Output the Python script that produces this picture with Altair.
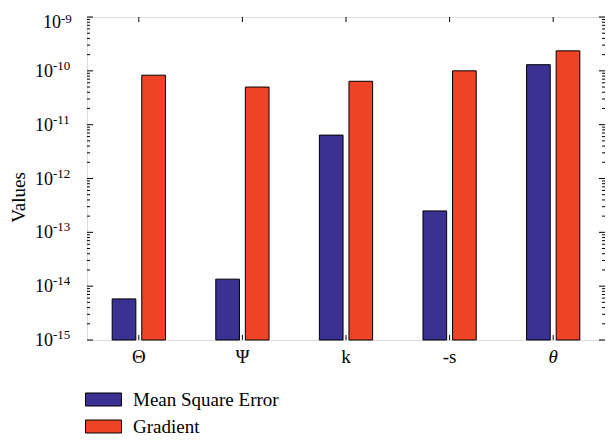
import altair as alt
import pandas as pd

categories = ["Θ", "Ψ", "k", "-s", "θ"]
series_names = ["Mean Square Error", "Gradient"]
mse_values = [5.8e-15, 1.35e-14, 6.4e-12, 2.5e-13, 1.3e-10]
grad_values = [8.3e-11, 5.0e-11, 6.4e-11, 1.0e-10, 2.35e-10]
colors = ["#3B3192", "#EF4328"]
tick_base = "10"
tick_exponents = ["-15", "-14", "-13", "-12", "-11", "-10", "-9"]
decades = [1e-15, 1e-14, 1e-13, 1e-12, 1e-11, 1e-10, 1e-9]
minor_mult = [2, 3, 4, 5, 6, 7, 8, 9]

W, H = 518, 323
FONT = "Liberation Serif"

rows = []
for c, m, g in zip(categories, mse_values, grad_values):
    rows.append({"cat": c, "series": series_names[0], "value": m})
    rows.append({"cat": c, "series": series_names[1], "value": g})
df = pd.DataFrame(rows)

major = pd.DataFrame({"value": decades, "exp": tick_exponents, "base": [tick_base] * len(decades)})
minor = pd.DataFrame({"value": [d * k for d in decades[:-1] for k in minor_mult]})
cats = pd.DataFrame({"cat": categories})

yscale = alt.Scale(type="log", domain=[1e-15, 1e-9])
xscale = alt.Scale(domain=categories, paddingInner=0.486, paddingOuter=0.243)

yaxis = alt.Axis(title="Values", values=decades, labels=False,
                 tickSize=0, domain=False, grid=False,
                 titleFont=FONT, titleFontSize=19, titleX=-69, titleY=180,
                 titleBaseline="middle",
                 titleFontWeight="normal", titleColor="black")
xaxis = alt.Axis(title=None, labelAngle=0, tickSize=0, domain=False,
                 labelFont=FONT, labelFontSize=19, labelColor="black",
                 labelPadding=7,
                 labelFontStyle={"condition": {"test": "datum.label == 'θ'", "value": "italic"}, "value": "normal"})

bars = alt.Chart(df).mark_bar(stroke="black", strokeWidth=1).encode(
    x=alt.X("cat:N", scale=xscale, sort=categories, axis=xaxis),
    xOffset=alt.XOffset("series:N", sort=series_names,
                        scale=alt.Scale(domain=series_names, paddingInner=0.2, paddingOuter=0)),
    y=alt.Y("value:Q", scale=yscale, axis=yaxis, stack=None),
    y2=alt.value(H),
    color=alt.Color("series:N", sort=series_names,
                    scale=alt.Scale(domain=series_names, range=colors),
                    legend=alt.Legend(title=None, orient="none", legendX=7, legendY=373,
                                      direction="vertical",
                                      symbolType="M-2.57,-0.93H2.57V0.93H-2.57Z", symbolSize=196,
                                      symbolStrokeColor="black", symbolStrokeWidth=1,
                                      labelFont=FONT, labelFontSize=19, labelColor="black",
                                      labelOffset=20, rowPadding=7)),
)

def yticks(data, x0, x1):
    return alt.Chart(data).mark_rule(color="black", strokeWidth=1).encode(
        y=alt.Y("value:Q", scale=yscale, axis=yaxis),
        x=alt.value(x0), x2=alt.value(x1))

left_major = yticks(major, 0, 6)
left_minor = yticks(minor, 0, 3)
right_major = yticks(major, W, W - 6)
right_minor = yticks(minor, W, W - 3)

def label_layer(filter_expr, base_x, base_dy, sup_dy):
    base = alt.Chart(major).transform_filter(filter_expr).mark_text(
        font=FONT, fontSize=18, color="black", align="right", baseline="middle", dy=base_dy
    ).encode(y=alt.Y("value:Q", scale=yscale, axis=yaxis), x=alt.value(base_x), text="base:N")
    sup = alt.Chart(major).transform_filter(filter_expr).mark_text(
        font=FONT, fontSize=13, color="black", align="left", baseline="top", dy=sup_dy
    ).encode(y=alt.Y("value:Q", scale=yscale, axis=yaxis), x=alt.value(base_x), text="exp:N")
    return [base, sup]

labels_long = label_layer("length(datum.exp) == 3", -34, 1, -11)
labels_short = label_layer("length(datum.exp) == 2", -26, 6, -4)

bottom_ticks = alt.Chart(cats).mark_rule(color="black", strokeWidth=1).encode(
    x=alt.X("cat:N", scale=xscale, sort=categories, bandPosition=0.5, axis=xaxis),
    y=alt.value(H), y2=alt.value(H - 5))
top_ticks = alt.Chart(cats).mark_rule(color="black", strokeWidth=1).encode(
    x=alt.X("cat:N", scale=xscale, sort=categories, bandPosition=0.5, axis=xaxis),
    y=alt.value(0), y2=alt.value(5))

chart = alt.layer(bars, left_major, left_minor, right_major, right_minor,
                  *labels_long, *labels_short,
                  bottom_ticks, top_ticks).properties(
    width=W, height=H,
    autosize=alt.AutoSizeParams(type="none"),
    padding={"left": 79, "top": 9, "right": 0, "bottom": 94},
).configure_view(stroke="black", strokeWidth=1.2).configure_legend(
    labelFont=FONT
).configure(background="white")

chart.save("out.html", embed_options={"renderer": "svg", "actions": False})
